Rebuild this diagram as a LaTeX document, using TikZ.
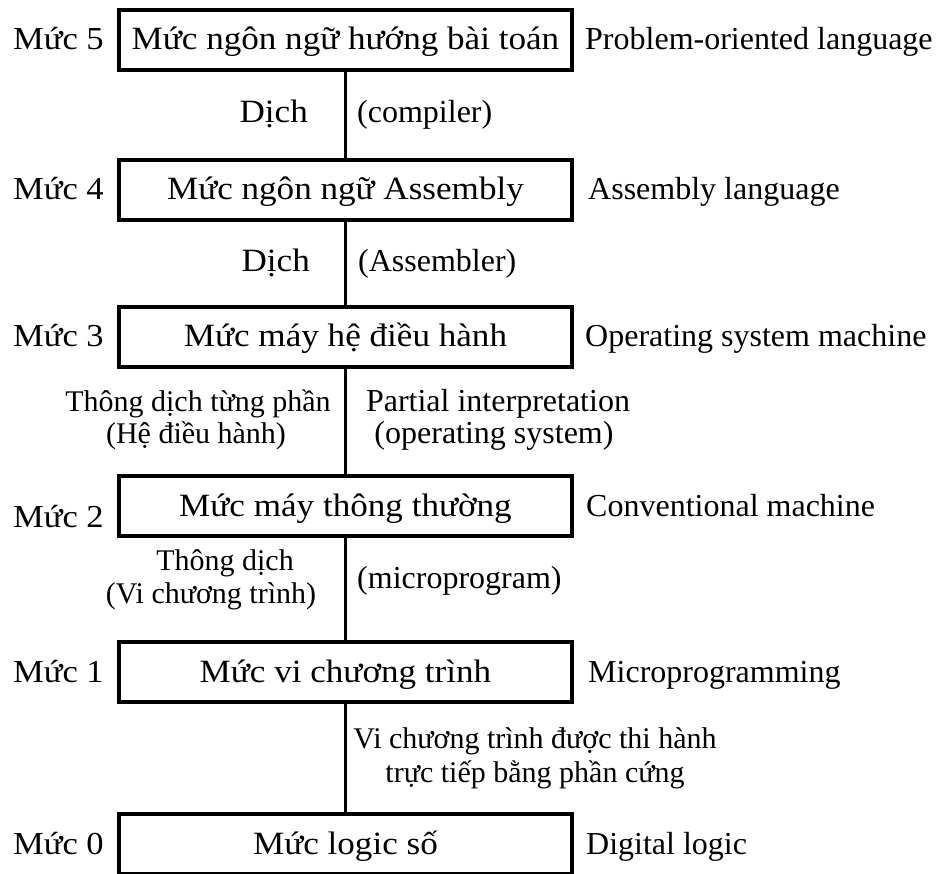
\documentclass[tikz,border=0pt]{standalone}
\usepackage{fontspec}
\setmainfont{Liberation Serif}
\newfontfamily\widefont{Liberation Serif}[FakeStretch=1.08]

\begin{document}
\begin{tikzpicture}[x=1pt,y=-1pt,
  levelbox/.style={draw, line width=3.6pt, minimum width=453pt, minimum height=60pt,
    inner sep=0pt, text height=22pt, text depth=2pt,
    font=\widefont\fontsize{32.5}{36}\selectfont},
  levelname/.style={inner sep=0pt, anchor=base east, font=\widefont\fontsize{32}{36}\selectfont},
  engname/.style={inner sep=0pt, anchor=base west, font=\fontsize{32}{36}\selectfont},
  translabel/.style={inner sep=0pt, font=\widefont\fontsize{32.5}{36}\selectfont},
  englabel/.style={inner sep=0pt, font=\fontsize{32}{36}\selectfont},
  vnlabel/.style={inner sep=0pt, font=\fontsize{30}{34}\selectfont},
  link/.style={line width=3.6pt}]

\fill[white] (0,0) rectangle (940,874);
\useasboundingbox (0,0) rectangle (940,874);

% the six machine levels
\node[levelbox] (b5) at (345.5,40)  {Mức ngôn ngữ hướng bài toán};
\node[levelbox] (b4) at (345.5,190) {Mức ngôn ngữ Assembly};
\node[levelbox] (b3) at (345.5,337) {Mức máy hệ điều hành};
\node[levelbox] (b2) at (345.5,506) {Mức máy thông thường};
\node[levelbox] (b1) at (345.5,672) {Mức vi chương trình};
\node[levelbox] (b0) at (345.5,844) {Mức logic số};

% level numbers on the left
\node[levelname] (m5) at (104,50)  {Mức 5};
\node[levelname] (m4) at (104,200) {Mức 4};
\node[levelname] (m3) at (104,347) {Mức 3};
\node[levelname] (m2) at (104,527) {Mức 2};
\node[levelname] (m1) at (104,682) {Mức 1};
\node[levelname] (m0) at (104,854) {Mức 0};

% English names on the right
\node[engname] (e5) at (585,50)  {Problem-oriented language};
\node[engname] (e4) at (588,200) {Assembly language};
\node[engname] (e3) at (585,347) {Operating system machine};
\node[engname] (e2) at (586,516) {Conventional machine};
\node[engname] (e1) at (588,682) {Microprogramming};
\node[engname] (e0) at (586,854) {Digital logic};

% connectors between levels
\draw[link] (b5) -- (b4);
\draw[link] (b4) -- (b3);
\draw[link] (b3) -- (b2);
\draw[link] (b2) -- (b1);
\draw[link] (b1) -- (b0);

% how each level is carried out
\node[translabel, anchor=base east] (d5) at (308,123) {Dịch};
\node[englabel, anchor=base west] (c5) at (357,123) {(compiler)};
\node[translabel, anchor=base east] (d4) at (310,272) {Dịch};
\node[englabel, anchor=base west] (c4) at (358,272) {(Assembler)};

\node[vnlabel, anchor=base] (d3a) at (198,412) {Thông dịch từng phần};
\node[vnlabel, anchor=base] (d3b) at (196,443) {(Hệ điều hành)};
\node[englabel, anchor=base] (c3a) at (498,412) {Partial interpretation};
\node[englabel, anchor=base] (c3b) at (494,443) {(operating system)};

\node[vnlabel, anchor=base] (d2a) at (225,570) {Thông dịch};
\node[vnlabel, anchor=base] (d2b) at (211,603) {(Vi chương trình)};
\node[englabel, anchor=base west] (c2) at (357,588) {(microprogram)};

\node[vnlabel, anchor=base] (d1a) at (535,748) {Vi chương trình được thi hành};
\node[vnlabel, anchor=base] (d1b) at (535,782) {trực tiếp bằng phần cứng};
\end{tikzpicture}
\end{document}
